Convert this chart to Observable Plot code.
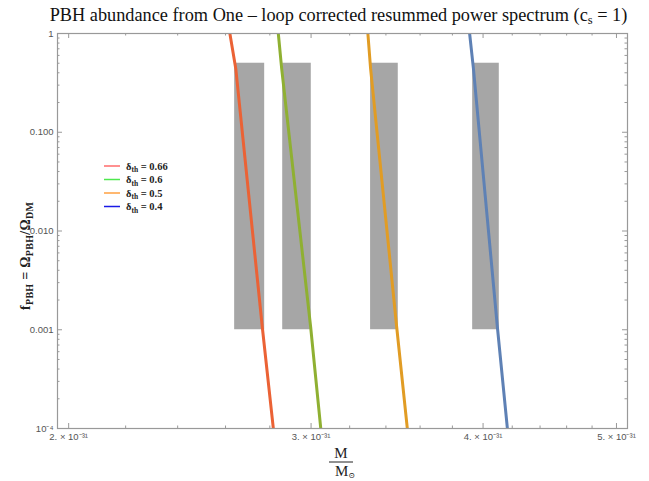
<!DOCTYPE html>
<html><head><meta charset="utf-8">
<script src="https://cdn.jsdelivr.net/npm/d3@7"></script>
<script src="https://cdn.jsdelivr.net/npm/@observablehq/plot@0.6"></script>
<style>body{margin:0;background:#fff}</style>
</head><body><div id="chart"></div>
<script>
// ---- data (mass in units of 1e-31 solar masses) ----
const seriesNames = ["0.66", "0.6", "0.5", "0.4"];
const seriesColors = ["#EB6235", "#8FB032", "#E19C24", "#5E81B5"];
const legendColors = ["#ff6b6b", "#4ee84e", "#ffa040", "#1a1ae6"];
const fPoints = [1, 0.44, 0.00106, 0.0001];
const massRed = [2.619, 2.645, 2.765, 2.8165];
const massGreen = [2.840, 2.856, 2.998, 3.049];
const massOrange = [3.299, 3.314, 3.462, 3.524];
const massBlue = [3.911, 3.936, 4.097, 4.166];
const boxLo = [2.640, 2.861, 3.314, 3.931];
const boxHi = [2.776, 3.001, 3.471, 4.110];
const boxTop = 0.5;
const boxBottom = 0.001;
const xMajor = [2, 3, 4, 5];
const xMajorLabels = ["2. × 10⁻³¹", "3. × 10⁻³¹", "4. × 10⁻³¹", "5. × 10⁻³¹"];
const xMinor = [2.2, 2.4, 2.6, 2.8, 3.2, 3.4, 3.6, 3.8, 4.2, 4.4, 4.6, 4.8];
const yMajor = [1, 0.1, 0.01, 0.001, 0.0001];
const yMajorLabels = ["1", "0.100", "0.010", "0.001", "10⁻⁴"];
const yMinor = [1e-4, 1e-3, 1e-2, 1e-1].flatMap(d => [2,3,4,5,6,7,8,9].map(k => +(k*d).toPrecision(3)));
const xDomain = [1.963, 5.093];
const yDomain = [1e-4, 1];

const massSeries = [massRed, massGreen, massOrange, massBlue];
const lineData = massSeries.flatMap((ms, i) => ms.map((m, j) => ({series: seriesNames[i], m, f: fPoints[j]})));
const boxes = boxLo.map((lo, i) => ({lo, hi: boxHi[i], top: boxTop, bottom: boxBottom}));
const xLabelData = xMajor.map((v, i) => ({v, label: xMajorLabels[i]}));
const yLabelData = yMajor.map((v, i) => ({v, label: yMajorLabels[i]}));

const W = 649, H = 481, ML = 57, MR = 22, MT = 33, MB = 53;
const FH = H - MT - MB, FW = W - ML - MR;
const tickColor = "#999";

const plot = Plot.plot({
  width: W, height: H,
  marginLeft: ML, marginRight: MR, marginTop: MT, marginBottom: MB,
  x: {type: "log", domain: xDomain, axis: null},
  y: {type: "log", domain: yDomain, axis: null},
  color: {domain: seriesNames, range: seriesColors},
  style: {fontFamily: "'Liberation Sans', Arial, sans-serif", fontSize: "9.5px", color: "#555", background: "#fff"},
  marks: [
    Plot.rect(boxes, {x1: "lo", x2: "hi", y1: "bottom", y2: "top", fill: "#a6a6a6"}),
    Plot.line(lineData, {x: "m", y: "f", z: "series", stroke: "series", strokeWidth: 3, clip: true}),
    Plot.frame({stroke: tickColor, strokeWidth: 1.2}),
    Plot.tickX(xMajor, {x: d => d, insetTop: FH - 5, stroke: tickColor}),
    Plot.tickX(xMinor, {x: d => d, insetTop: FH - 2.5, stroke: tickColor}),
    Plot.tickX(xMajor, {x: d => d, insetBottom: FH - 5, stroke: tickColor}),
    Plot.tickX(xMinor, {x: d => d, insetBottom: FH - 2.5, stroke: tickColor}),
    Plot.tickY(yMajor, {y: d => d, insetRight: FW - 5, stroke: tickColor}),
    Plot.tickY(yMinor, {y: d => d, insetRight: FW - 2.5, stroke: tickColor}),
    Plot.tickY(yMajor, {y: d => d, insetLeft: FW - 5, stroke: tickColor}),
    Plot.tickY(yMinor, {y: d => d, insetLeft: FW - 2.5, stroke: tickColor}),
    Plot.text(xLabelData, {x: "v", text: "label", frameAnchor: "bottom", lineAnchor: "top", dy: 5, fill: "#555"}),
    Plot.text(yLabelData, {y: "v", text: "label", frameAnchor: "left", textAnchor: "end", dx: -4, fill: "#555"})
  ]
});
document.getElementById("chart").appendChild(plot);

const svg = d3.select(plot);
const serif = "'Liberation Serif', 'DejaVu Serif', serif";

// title
const title = svg.append("text").attr("x", 338.5).attr("y", 21).attr("text-anchor", "middle")
  .attr("font-family", serif).attr("font-size", 18.3).attr("fill", "#111");
title.append("tspan").text("PBH abundance from One – loop corrected resummed power spectrum (c");
title.append("tspan").attr("dy", 3).attr("font-size", 12.5).text("s");
title.append("tspan").attr("dy", -3).text(" = 1)");

// y label
const yl = svg.append("text").attr("transform", "translate(30,256) rotate(-90)").attr("text-anchor", "middle")
  .attr("font-family", serif).attr("font-size", 14).attr("font-weight", "bold").attr("fill", "#222")
  .attr("textLength", 108).attr("lengthAdjust", "spacing");
yl.append("tspan").text("f");
yl.append("tspan").attr("dy", 3).attr("font-size", 10).text("PBH");
yl.append("tspan").attr("dy", -3).text(" = Ω");
yl.append("tspan").attr("dy", 3).attr("font-size", 10).text("PBH");
yl.append("tspan").attr("dy", -3).text("/Ω");
yl.append("tspan").attr("dy", 3).attr("font-size", 10).text("DM");

// x label
svg.append("text").attr("x", 341).attr("y", 458).attr("text-anchor", "middle")
  .attr("font-family", serif).attr("font-size", 15).attr("fill", "#222").text("M");
svg.append("line").attr("x1", 329).attr("x2", 353).attr("y1", 462).attr("y2", 462).attr("stroke", "#222").attr("stroke-width", 1);
const xl = svg.append("text").attr("x", 335).attr("y", 476).attr("text-anchor", "start")
  .attr("font-family", serif).attr("font-size", 15).attr("fill", "#222");
xl.append("tspan").text("M");
xl.append("tspan").attr("dy", 1.5).attr("font-size", 8).text("⊙");

// legend
seriesNames.forEach((name, i) => {
  const y = 166 + i * 13.5;
  svg.append("line").attr("x1", 104).attr("x2", 120).attr("y1", y).attr("y2", y)
    .attr("stroke", legendColors[i]).attr("stroke-width", 1.5);
  const t = svg.append("text").attr("x", 126).attr("y", y + 3.5).attr("text-anchor", "start")
    .attr("font-family", serif).attr("font-size", 10.5).attr("font-weight", "bold").attr("fill", "#222");
  t.append("tspan").text("δ");
  t.append("tspan").attr("dy", 2.5).attr("font-size", 7.5).text("th");
  t.append("tspan").attr("dy", -2.5).text(" = " + name);
});
</script>
</body></html>
